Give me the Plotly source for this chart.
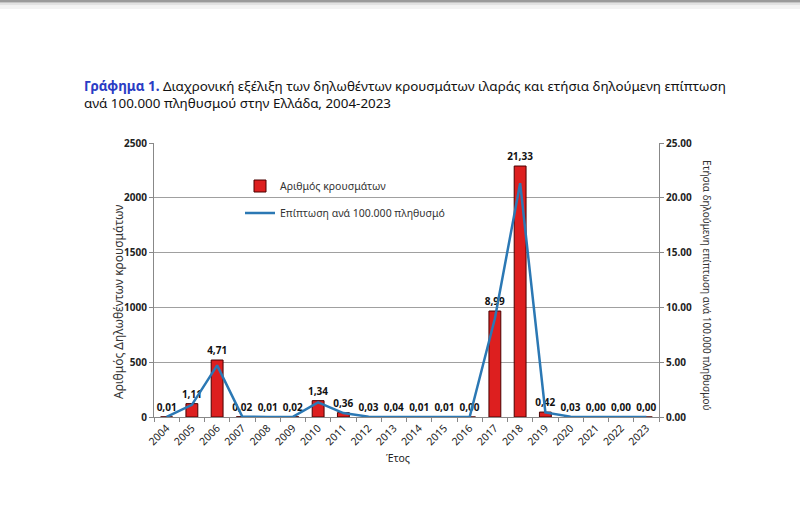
import plotly.graph_objects as go

years = [str(y) for y in range(2004, 2024)]
cases = [1, 122, 520, 2, 1, 2, 149, 40, 3, 4, 1, 1, 0, 967, 2290, 45, 3, 0, 0, 0]
incidence = [0.01, 1.11, 4.71, 0.02, 0.01, 0.02, 1.34, 0.36, 0.03, 0.04,
             0.01, 0.01, 0.00, 8.99, 21.33, 0.42, 0.03, 0.00, 0.00, 0.00]
left_ticks = [0, 500, 1000, 1500, 2000, 2500]
right_ticks = [0, 5, 10, 15, 20, 25]

labels = [f"{v:.2f}".replace(".", ",") for v in incidence]

W, H = 800, 505
L, R, T, B = 154, 659, 143, 417
pw, ph = R - L, B - T

def px(x):
    return (x - L) / pw

def py(y):
    return (B - y) / ph

FONT = "Noto Sans"

fig = go.Figure()
fig.add_trace(go.Bar(
    x=years, y=cases, name="Αριθμός κρουσμάτων",
    marker=dict(color="#DD1F1F", line=dict(color="#4A0000", width=1)),
    width=0.47,
    text=labels, textposition="outside", constraintext="none",
    textfont=dict(family=FONT, size=10, color="#111", weight="bold"),
    cliponaxis=False, legend="legend",
))
fig.add_trace(go.Scatter(
    x=years, y=incidence, name="Επίπτωση ανά 100.000 πληθυσμό",
    mode="lines", line=dict(color="#2B78B4", width=2.5),
    yaxis="y2", legend="legend2",
))

grid = "#A0A0A0"
fig.update_layout(
    width=W, height=H,
    margin=dict(l=L, r=W - R, t=T, b=H - B),
    paper_bgcolor="white", plot_bgcolor="white",
    font=dict(family=FONT, size=10, color="#222"),
    xaxis=dict(
        type="category", tickangle=-45, tickson="boundaries",
        ticks="outside", ticklen=4, tickcolor="#888",
        showline=True, linecolor="#888", linewidth=1,
        showgrid=False, tickfont=dict(size=10.5, color="#222"),
    ),
    yaxis=dict(
        range=[0, 2500], tickvals=left_ticks, ticks="outside", ticklen=4,
        tickcolor="#888", showline=True, linecolor="#888",
        gridcolor=grid, gridwidth=1, zeroline=False,
        tickfont=dict(size=10, color="#222", weight="bold"),
    ),
    yaxis2=dict(
        range=[0, 25], tickvals=right_ticks,
        ticktext=[f"{v:.2f}" for v in right_ticks],
        overlaying="y", side="right", ticks="outside", ticklen=4,
        tickcolor="#888", showline=True, linecolor="#888",
        showgrid=False, zeroline=False,
        tickfont=dict(size=10, color="#222", weight="bold"),
    ),
    legend=dict(x=px(240), y=py(186), xanchor="left", yanchor="middle",
                bgcolor="rgba(0,0,0,0)", font=dict(size=10.5, color="#333")),
    legend2=dict(x=px(240), y=py(213), xanchor="left", yanchor="middle",
                 bgcolor="rgba(0,0,0,0)", font=dict(size=10.5, color="#333")),
    showlegend=True,
)

fig.add_annotation(
    xref="paper", yref="paper", x=px(82), y=py(75), xanchor="left", yanchor="top",
    align="left", showarrow=False,
    text=("<b><span style='color:#2A3CC4'>Γράφημα 1.</span></b> Διαχρονική εξέλιξη των δηλωθέντων "
          "κρουσμάτων ιλαράς και ετήσια δηλούμενη επίπτωση<br>ανά 100.000 πληθυσμού στην Ελλάδα, 2004-2023"),
    font=dict(size=13.4, color="#111"),
)
fig.add_annotation(
    xref="paper", yref="paper", x=px(118), y=py(302), textangle=-90,
    xanchor="center", yanchor="middle",
    showarrow=False, text="Αριθμός Δηλωθέντων κρουσμάτων",
    font=dict(size=12, color="#333"),
)
fig.add_annotation(
    xref="paper", yref="paper", x=px(707), y=py(285), textangle=90,
    xanchor="center", yanchor="middle",
    showarrow=False, text="Ετήσια δηλούμενη επίπτωση ανά 100.000 πληθυσμού",
    font=dict(size=10, color="#333"),
)
fig.add_annotation(
    xref="paper", yref="paper", x=px(398), y=py(458),
    xanchor="center", yanchor="middle",
    showarrow=False, text="Έτος", font=dict(size=10.5, color="#222"),
)

# top border shadow
for y0, y1, c in [(0, 2, "#9A9A9A"), (2, 3.5, "#C4C4C4"), (3.5, 5.5, "#E2E2E2"), (5.5, 9, "#F3F3F3")]:
    fig.add_shape(type="rect", xref="paper", yref="paper",
                  x0=px(0), x1=px(W), y0=py(y1), y1=py(y0),
                  fillcolor=c, line=dict(width=0), layer="above")

fig.write_html("out.html", config={"displayModeBar": False},
               post_script="document.body.style.margin='0';document.body.style.overflow='hidden';")
